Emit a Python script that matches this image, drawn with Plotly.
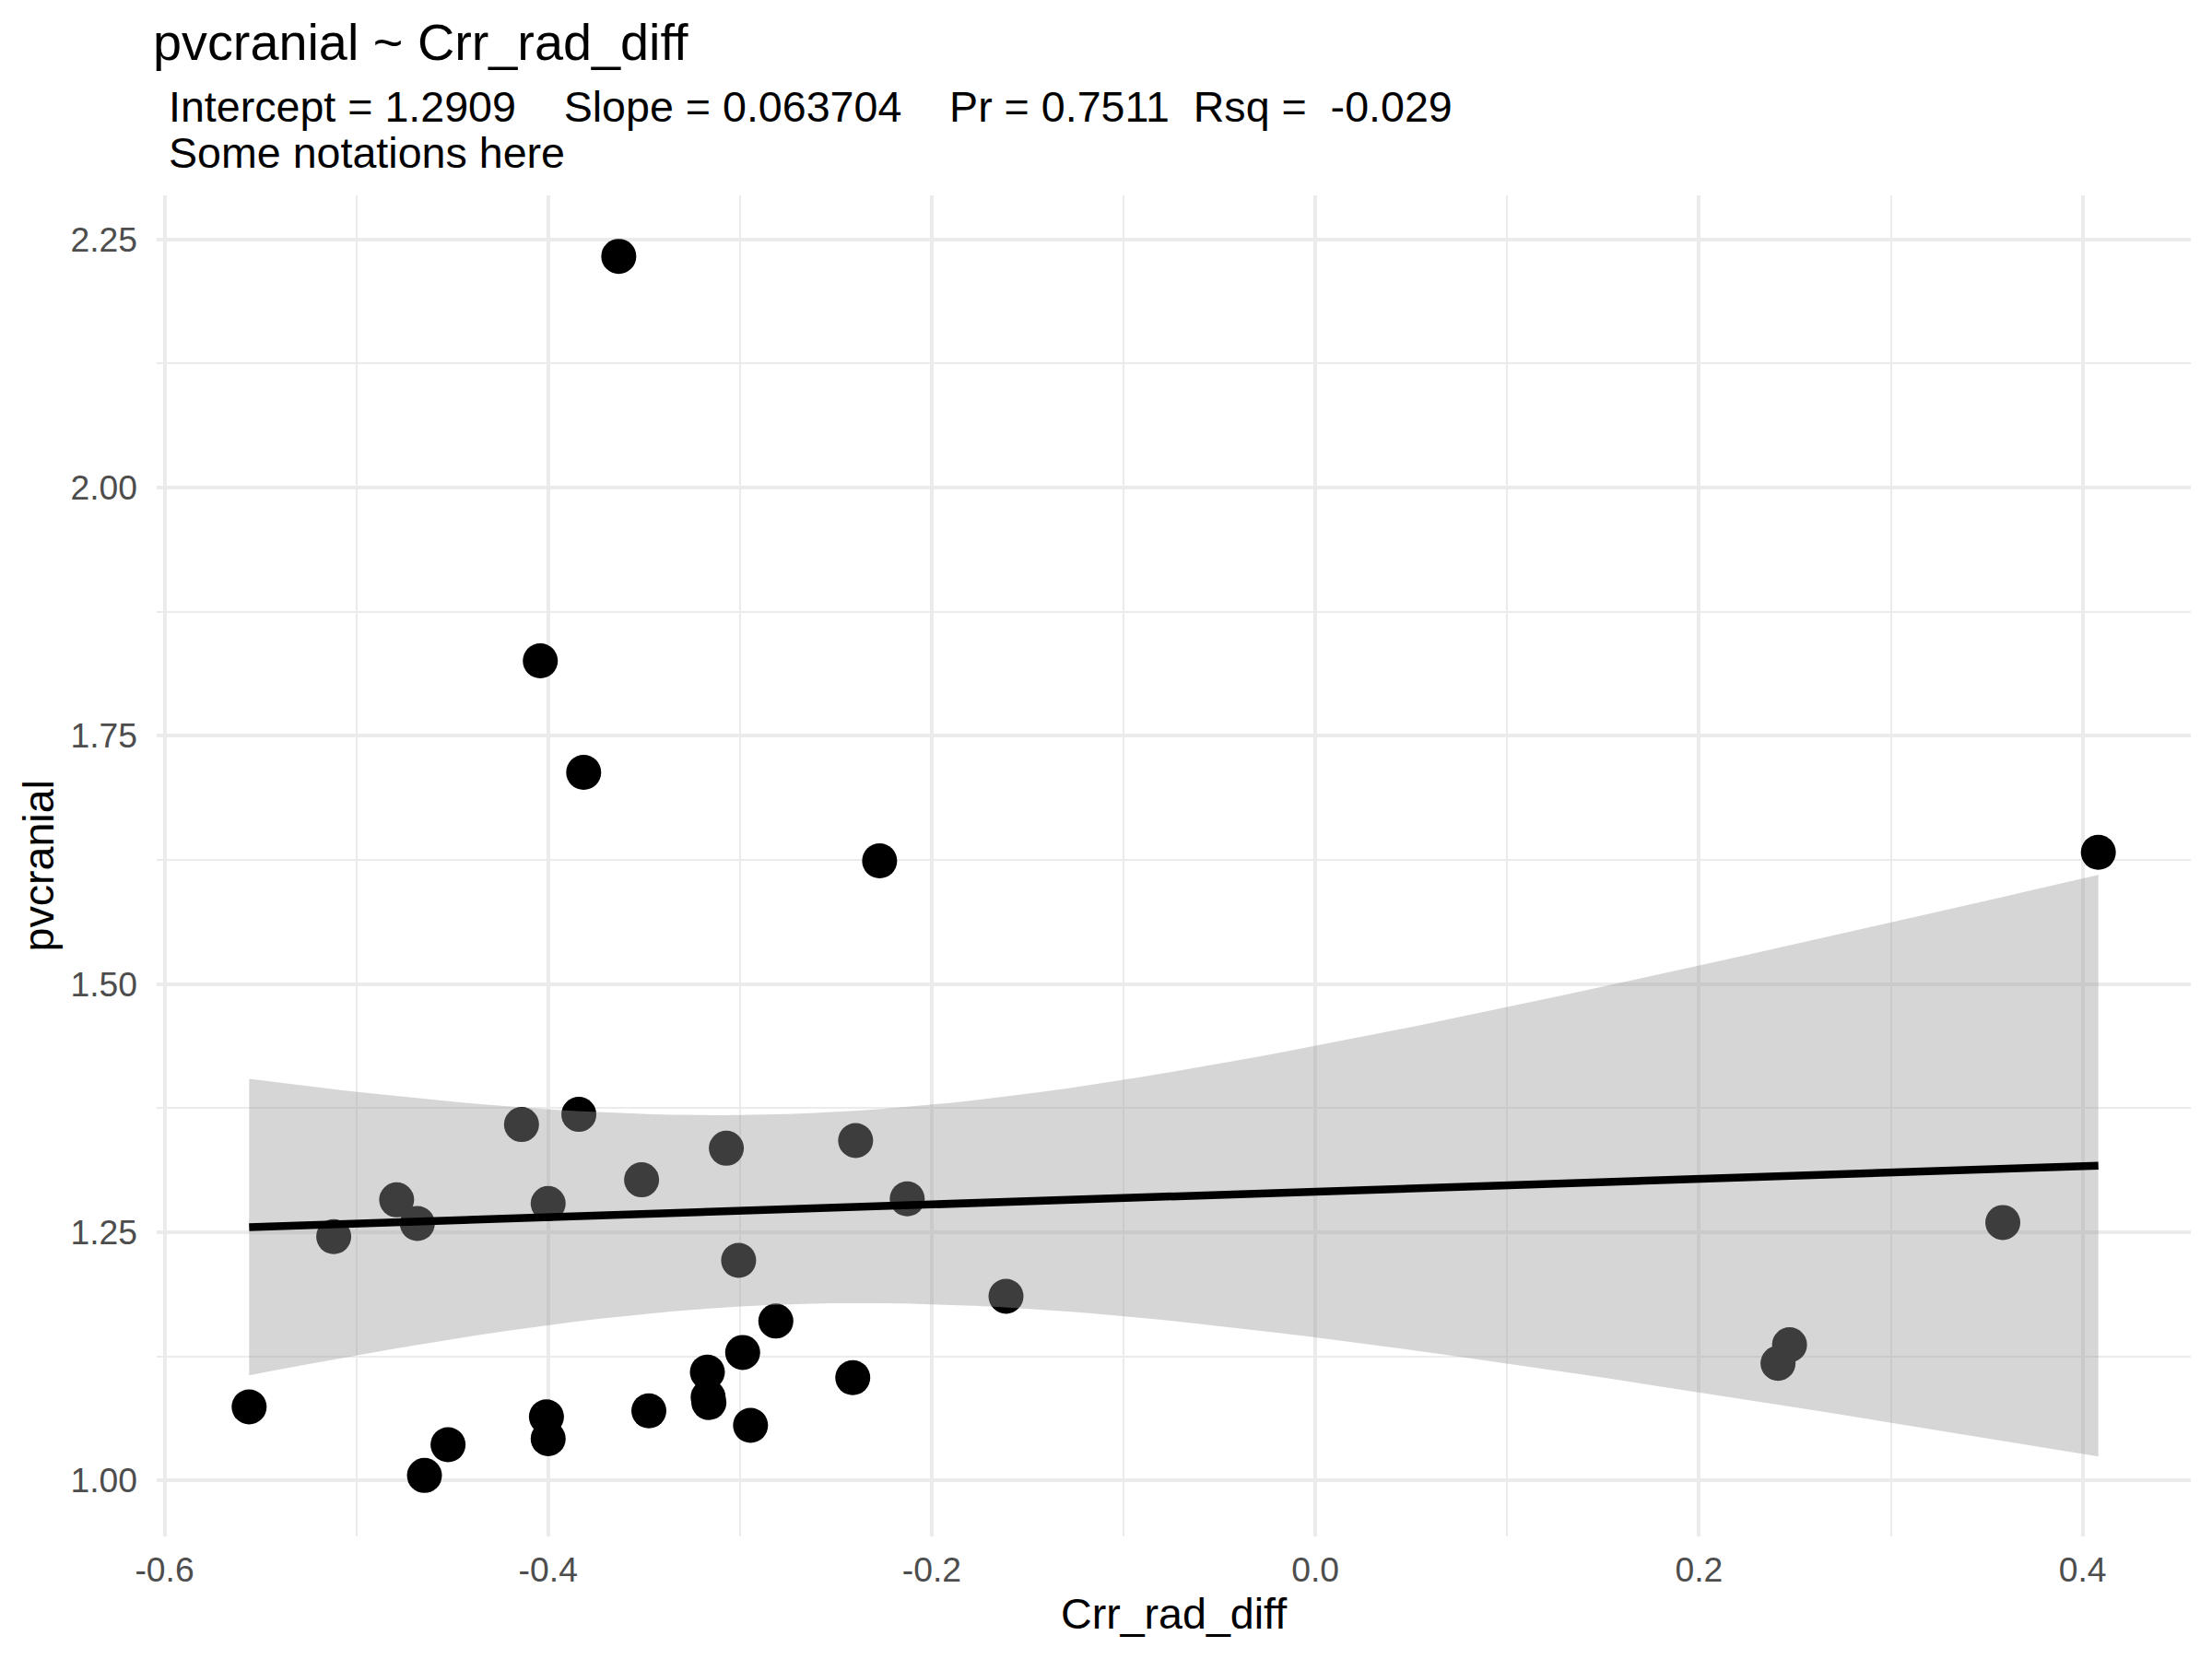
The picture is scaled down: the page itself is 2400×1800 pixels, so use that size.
import numpy as np
import plotly.graph_objects as go

# data
crr_rad_diff = [
    -0.3632, -0.4041, -0.3815, -0.2272, 0.4082, -0.3840, -0.4139, -0.3071,
    -0.2397, -0.3513, -0.4790, -0.4000, -0.2128, -0.4682, -0.5118, 0.3584,
    -0.3007, -0.1613, -0.2813, -0.2986, -0.3170, -0.2412, 0.2472, 0.2412,
    -0.5559, -0.3475, -0.3166, -0.3162, -0.4009, -0.4000, -0.2945, -0.4522,
    -0.4645,
]
pvcranial = [
    2.2329, 1.8255, 1.7131, 1.6240, 1.6326, 1.3686, 1.3584, 1.3345,
    1.3423, 1.3027, 1.2825, 1.2788, 1.2835, 1.2587, 1.2454, 1.2597,
    1.2216, 1.1854, 1.1604, 1.1288, 1.1090, 1.1034, 1.1365, 1.1179,
    1.0740, 1.0700, 1.0838, 1.0783, 1.0640, 1.0420, 1.0554, 1.0359,
    1.0049,
]

x_ticks = [-0.6, -0.4, -0.2, 0.0, 0.2, 0.4]
x_tick_labels = ["-0.6", "-0.4", "-0.2", "0.0", "0.2", "0.4"]
x_minor = [-0.5, -0.3, -0.1, 0.1, 0.3]
y_ticks = [1.00, 1.25, 1.50, 1.75, 2.00, 2.25]
y_tick_labels = ["1.00", "1.25", "1.50", "1.75", "2.00", "2.25"]
y_minor = [1.125, 1.375, 1.625, 1.875, 2.125]

title_text = "pvcranial ~ Crr_rad_diff"
stats_text = "Intercept = 1.2909    Slope = 0.063704    Pr = 0.7511  Rsq =  -0.029"
note_text = "Some notations here"
x_title = "Crr_rad_diff"
y_title = "pvcranial"

FONT = "Liberation Sans, Arial, sans-serif"

# linear fit + 95% confidence band (like geom_smooth(method="lm"))
x = np.array(crr_rad_diff)
y = np.array(pvcranial)
n = len(x)
slope, intercept = np.polyfit(x, y, 1)
resid = y - (intercept + slope * x)
s = np.sqrt(np.sum(resid ** 2) / (n - 2))
sxx = np.sum((x - x.mean()) ** 2)
t_crit = 2.0395  # t(0.975, df=31)
grid = np.linspace(x.min(), x.max(), 80)
fit = intercept + slope * grid
se = s * np.sqrt(1 / n + (grid - x.mean()) ** 2 / sxx)
upper = fit + t_crit * se
lower = fit - t_crit * se

# ggplot-style 5% expansion
xr = [x.min() - 0.05 * (x.max() - x.min()), x.max() + 0.05 * (x.max() - x.min())]
yr = [y.min() - 0.05 * (y.max() - y.min()), y.max() + 0.05 * (y.max() - y.min())]

fig = go.Figure()
fig.add_trace(go.Scatter(x=crr_rad_diff, y=pvcranial, mode="markers",
                         marker=dict(color="black", size=38, line=dict(width=0)),
                         showlegend=False))
fig.add_trace(go.Scatter(x=np.concatenate([grid, grid[::-1]]),
                         y=np.concatenate([upper, lower[::-1]]),
                         fill="toself", fillcolor="rgba(153,153,153,0.4)",
                         line=dict(width=0), mode="lines", showlegend=False))
fig.add_trace(go.Scatter(x=grid, y=fit, mode="lines",
                         line=dict(color="black", width=8.5), showlegend=False))

# page body adds an 8px offset; panel on screen is x 170..2377, y 212..1667
L, R, T, B = 162, 31, 204, 141
W, H = 2400, 1800
pw, ph = W - L - R, H - T - B


def px_x(p):
    return (p - 8 - L) / pw


def px_y(p):
    return (H - B - (p - 8)) / ph


fig.update_layout(
    width=W, height=H,
    margin=dict(l=L, r=R, t=T, b=B),
    paper_bgcolor="white", plot_bgcolor="white",
    font=dict(family=FONT, color="black"),
    xaxis=dict(range=xr, tickvals=x_ticks, ticktext=x_tick_labels,
               showgrid=True, gridcolor="#ebebeb", gridwidth=4,
               zeroline=False, showline=False, ticks="",
               tickfont=dict(size=37.3, color="#4d4d4d"), ticklabelstandoff=11,
               minor=dict(tickvals=x_minor, showgrid=True, gridcolor="#ebebeb", gridwidth=2)),
    yaxis=dict(range=yr, tickvals=y_ticks, ticktext=y_tick_labels,
               showgrid=True, gridcolor="#ebebeb", gridwidth=4,
               zeroline=False, showline=False, ticks="",
               tickfont=dict(size=37.3, color="#4d4d4d"), ticklabelstandoff=20,
               minor=dict(tickvals=y_minor, showgrid=True, gridcolor="#ebebeb", gridwidth=2)),
)

nb = lambda t: t.replace(" ", "\u00a0")
annots = [
    dict(text=nb(title_text), x=px_x(165), y=px_y(13), size=55.8),
    dict(text=nb(stats_text), x=px_x(182), y=px_y(89), size=46.6),
    dict(text=nb(note_text), x=px_x(182), y=px_y(139), size=46.6),
]
for a in annots:
    fig.add_annotation(text=a["text"], xref="paper", yref="paper", x=a["x"], y=a["y"],
                       xanchor="left", yanchor="top", showarrow=False, borderpad=0,
                       font=dict(size=a["size"], color="black", family=FONT))

fig.add_annotation(text=x_title, xref="paper", yref="paper", x=0.5, y=px_y(1724),
                   xanchor="center", yanchor="top", showarrow=False, borderpad=0,
                   font=dict(size=46.6, color="black", family=FONT))
fig.add_annotation(text=y_title, xref="paper", yref="paper", x=px_x(41), y=0.5,
                   xanchor="center", yanchor="middle", textangle=-90, showarrow=False,
                   borderpad=0, font=dict(size=46.6, color="black", family=FONT))

fig.write_html("out.html")
